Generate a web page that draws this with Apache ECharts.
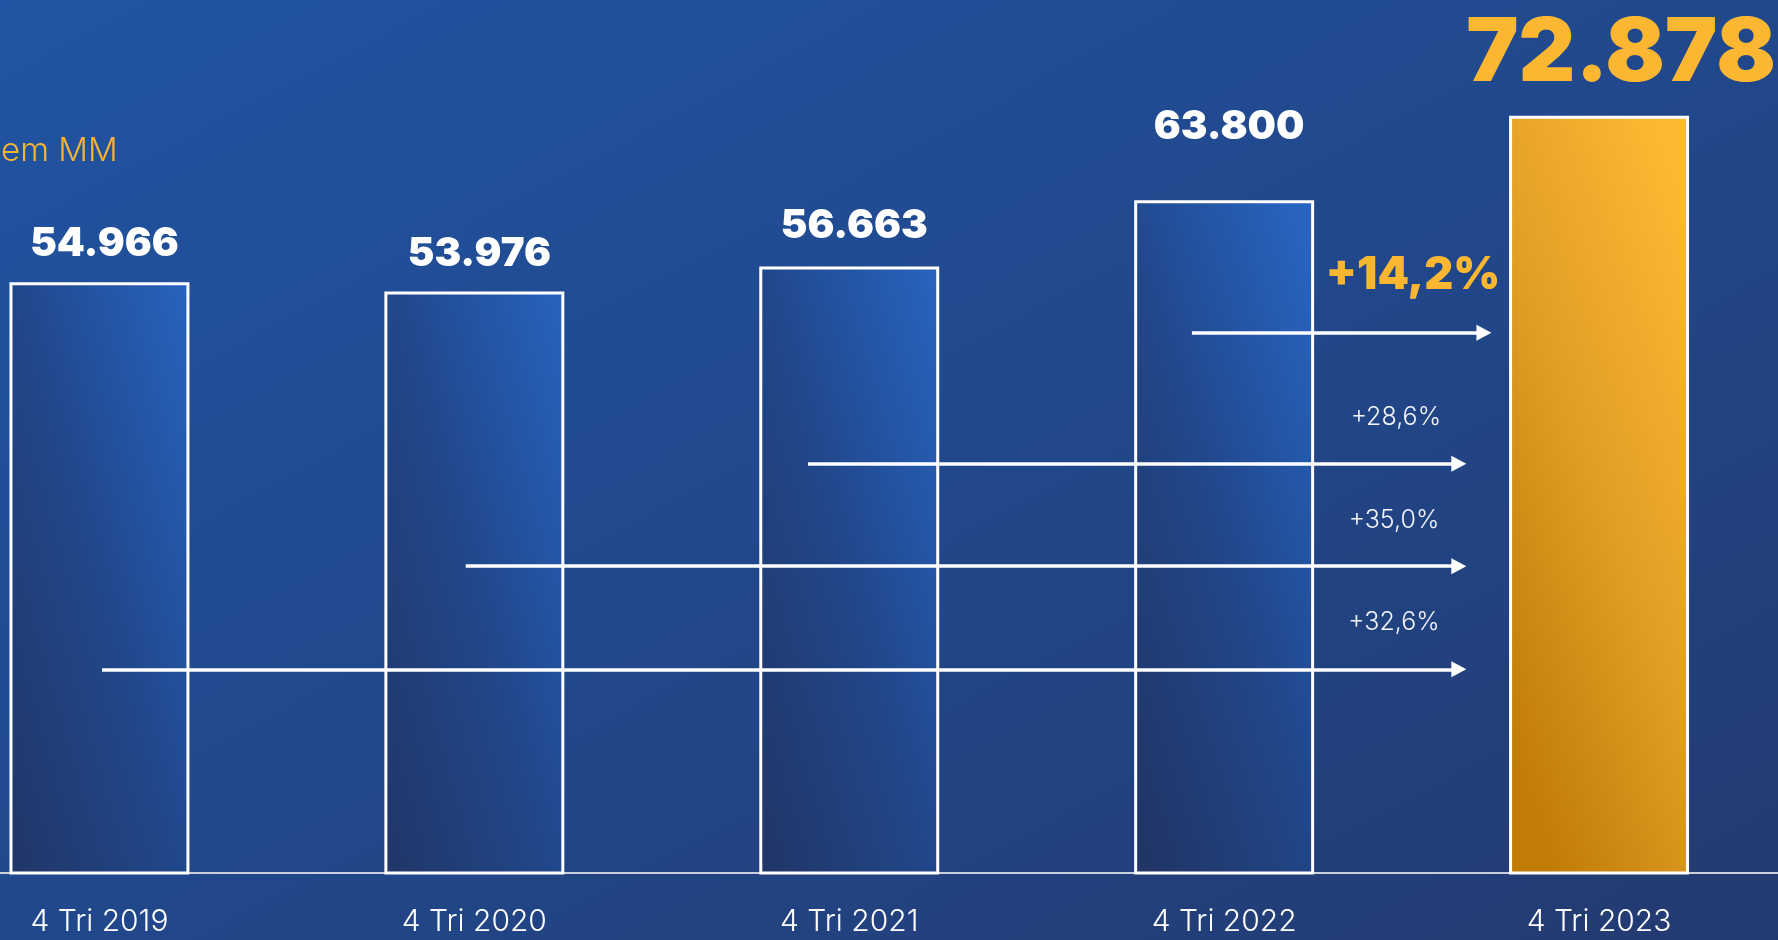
<!DOCTYPE html>
<html><head><meta charset="utf-8">
<script src="https://cdn.jsdelivr.net/npm/echarts@6/dist/echarts.min.js"></script>
<style>
html,body{margin:0;padding:0;width:1778px;height:940px;overflow:hidden;}
#chart{width:1778px;height:940px;background:linear-gradient(to bottom right,#2154a2 0%,#21488c 50%,#233a70 100%);}
</style></head><body><div id="chart"></div>
<script>
// ---- data ----
const categories = ['4 Tri 2019', '4 Tri 2020', '4 Tri 2021', '4 Tri 2022', '4 Tri 2023'];
const values = [54966, 53976, 56663, 63800, 72878];
const unitLabel = 'em MM';
// growth vs 4 Tri 2023 (annotation arrows)
const growthLabels = ['+14,2%', '+28,6%', '+35,0%', '+32,6%'];
// annotation placement (x in category-index units, y in value units)
const arrowStart = [2.914, 1.89, 0.977, 0.007];
const arrowEnd = [3.693, 3.626, 3.626, 3.626];
const arrowLevel = [49700, 35600, 24600, 13500];
const growthLabelX = [3.504, 3.458, 3.453, 3.453];
const growthLabelLevel = [55900, 40640, 29560, 18490];
const labelDistance = [20, 19, 22, 55, 19];

const Y_MIN = -8400, Y_MAX = 80000;

function fmt(v){ return String(v).replace(/\B(?=(\d{3})+(?!\d))/g, '.'); }

function diagGrad(c0, c1, c2){
  return new echarts.graphic.LinearGradient(-1.195, 0.6475, 2.195, 0.3525, [
    {offset: 0, color: c0}, {offset: 0.23, color: c0}, {offset: 0.5, color: c1}, {offset: 0.77, color: c2}, {offset: 1, color: c2}
  ]);
}

function renderBar(params, api){
  const i = api.value(0);
  const v = api.value(1);
  const last = params.dataIndex === values.length - 1;
  const top = api.coord([i, v]);
  const bottom = api.coord([i, Y_MIN]);
  const w = api.size([1, 0])[0] * 0.472;
  const fs = last ? 88 : 40;
  return {
    type: 'group',
    children: [{
      type: 'rect',
      shape: {x: top[0] - w / 2, y: top[1], width: w, height: bottom[1] - top[1]},
      style: {
        fill: last ? diagGrad('#c07c05', '#e09e25', '#fcb832') : diagGrad('#213566', '#21478b', '#2864c0'),
        stroke: '#ffffff', lineWidth: 3
      }
    }, {
      type: 'text',
      style: {
        text: fmt(v),
        x: top[0] + (last ? 22 : 5),
        y: top[1] - labelDistance[params.dataIndex] - fs / 2,
        align: 'center', verticalAlign: 'middle',
        fill: last ? '#fbb731' : '#ffffff',
        fontSize: fs, fontWeight: 900, fontFamily: 'Inter'
      }
    }]
  };
}

const chart = echarts.init(document.getElementById('chart'), null, {renderer: 'canvas'});
chart.setOption({
  animation: false,
  backgroundColor: 'transparent',
  title: {
    text: unitLabel, left: -4, top: 130,
    textStyle: {color: '#f5b531', fontSize: 33, fontWeight: 300, fontFamily: 'Inter'}
  },
  grid: {left: -88, top: 51, width: 1874.5, height: 822, containLabel: false, outerBoundsMode: 'none'},
  xAxis: [{
    type: 'category', data: categories,
    axisLine: {show: true, onZero: false, lineStyle: {color: '#c9cfdc', width: 2}},
    axisTick: {show: false},
    axisLabel: {color: '#ffffff', fontSize: 30, fontWeight: 300, fontFamily: 'Inter', margin: 34},
    splitLine: {show: false}
  }, {
    type: 'value', min: -0.5, max: 4.5, show: false
  }],
  yAxis: {type: 'value', min: Y_MIN, max: Y_MAX, show: false, splitLine: {show: false}},
  series: [{
    type: 'custom', xAxisIndex: 0, z: 2, silent: true,
    data: values.map((v, i) => [i, v]),
    encode: {x: 0, y: 1},
    renderItem: renderBar
  }, {
    type: 'scatter', xAxisIndex: 1, z: 5, symbolSize: 0, silent: true,
    itemStyle: {opacity: 1},
    data: growthLabels.map((t, i) => ({
      value: [growthLabelX[i], growthLabelLevel[i]],
      label: i === 0
        ? {show: true, position: 'inside', formatter: t, color: '#fbb731', opacity: 1, fontSize: 45, fontWeight: 900, fontFamily: 'Inter'}
        : {show: true, position: 'inside', formatter: t, color: '#f2f4f9', opacity: 1, fontSize: 25, fontWeight: 300, fontFamily: 'Inter'}
    })),
    markLine: {
      silent: true, symbol: ['none', 'triangle'], symbolSize: [16, 15], precision: 4,
      lineStyle: {color: '#ffffff', width: 3.5, type: 'solid', opacity: 1},
      label: {show: false},
      emphasis: {disabled: true},
      data: arrowStart.map((s, i) => [
        {coord: [s, arrowLevel[i]]}, {coord: [arrowEnd[i], arrowLevel[i]]}
      ])
    }
  }]
});
</script></body></html>
